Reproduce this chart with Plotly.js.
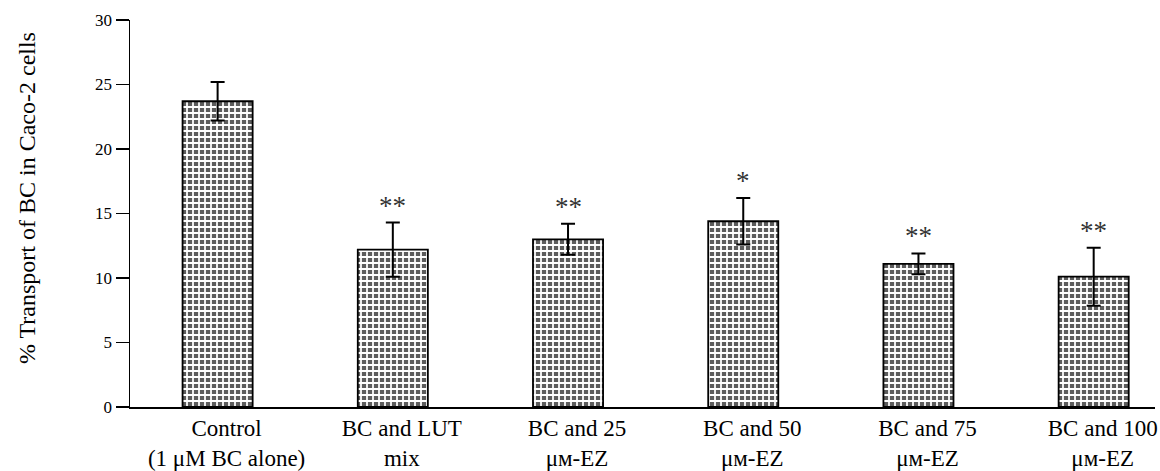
<!DOCTYPE html>
<html>
<head>
<meta charset="utf-8">
<script src="https://cdn.plot.ly/plotly-3.0.1.min.js"></script>
<style>html,body{margin:0;padding:0;background:#fff;}</style>
</head>
<body>
<div id="chart" style="width:1160px;height:471px;"></div>
<script>
const categories = [
  "Control<br>(1 μM BC alone)",
  "BC and LUT<br>mix",
  "BC and 25<br>μᴍ-EZ",
  "BC and 50<br>μᴍ-EZ",
  "BC and 75<br>μᴍ-EZ",
  "BC and 100<br>μᴍ-EZ"
];
const transport = [23.7, 12.2, 13.0, 14.4, 11.1, 10.1];
const errors = [1.5, 2.1, 1.2, 1.8, 0.8, 2.25];
const significance = ["", "**", "**", "*", "**", "**"];
const yTicks = [0, 5, 10, 15, 20, 25, 30];
const yTitle = "% Transport of BC in Caco-2 cells";

const xIdx = categories.map((_, i) => i);
const serif = "Liberation Serif, Times New Roman, serif";

const trace = {
  type: "bar",
  x: xIdx,
  y: transport,
  width: 0.4,
  marker: {
    color: "#5c5c5c",
    line: {color: "#000", width: 1.8},
    pattern: {shape: "+", bgcolor: "#5c5c5c", fgcolor: "#ffffff", size: 6, solidity: 0.5}
  },
  error_y: {type: "data", array: errors, visible: true, color: "#000", thickness: 2, width: 7},
  hoverinfo: "skip"
};

const annotations = significance.map((s, i) => ({
  x: i, y: transport[i] + errors[i], xref: "x", yref: "y",
  text: s, showarrow: false, yanchor: "bottom", yshift: 0,
  font: {family: serif, size: 27, color: "#333"}
})).filter(a => a.text);

annotations.push({
  x: 0, xref: "paper", xanchor: "center", xshift: -103,
  y: 0.54, yref: "paper", yanchor: "middle",
  text: yTitle, textangle: -90, showarrow: false,
  font: {family: serif, size: 24, color: "#000"}
});

const layout = {
  width: 1160, height: 471,
  margin: {l: 130, r: 5, t: 20, b: 64},
  paper_bgcolor: "#fff", plot_bgcolor: "#fff",
  showlegend: false,
  xaxis: {
    range: [-0.5, 5.35],
    tickvals: xIdx, ticktext: categories,
    ticks: "", showline: true, linecolor: "#000", linewidth: 1.5,
    showgrid: false, zeroline: false,
    ticklabelshift: 9,
    tickfont: {family: serif, size: 23, color: "#000"}
  },
  yaxis: {
    range: [0, 30],
    tickvals: yTicks,
    ticks: "outside", ticklen: 13, tickwidth: 1.5, tickcolor: "#000",
    showline: true, linecolor: "#000", linewidth: 1.5,
    showgrid: false, zeroline: false,
    tickfont: {family: serif, size: 17, color: "#000"}
  },
  annotations: annotations
};

Plotly.newPlot("chart", [trace], layout, {displayModeBar: false, staticPlot: true});
</script>
</body>
</html>
